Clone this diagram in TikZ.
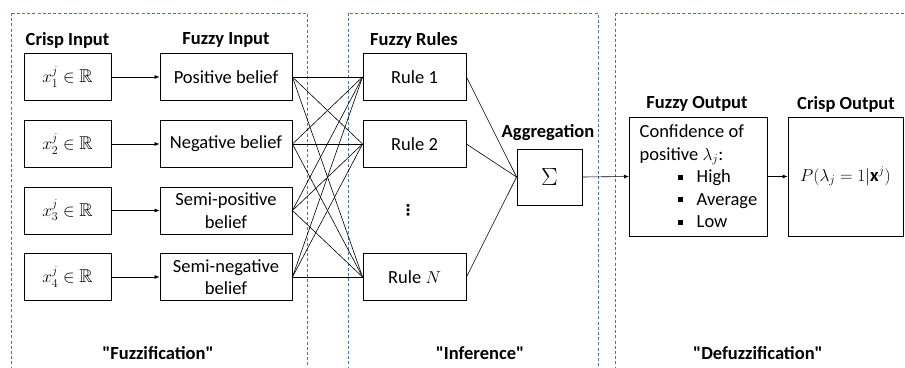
\documentclass[tikz,border=0pt]{standalone}
\usepackage{amsmath}
\usepackage{amssymb}
\usepackage{fontspec}
\setmainfont{Carlito}
\newfontfamily\symfont{DejaVu Sans}
\usetikzlibrary{arrows.meta}
\definecolor{stageblue}{RGB}{84,114,166}

\begin{document}
\fontsize{18.5}{22.5}\selectfont
\begin{tikzpicture}[x=1pt,y=-1pt,
    box/.style={draw,line width=0.9pt,inner sep=0pt,minimum height=47pt,align=center},
    head/.style={font=\bfseries},
    stage/.style={draw=stageblue,line width=0.7pt,dash pattern=on 3pt off 2.2pt},
    link/.style={line width=0.6pt},
    arr/.style={link,-{Latex[length=5pt,width=4pt]}}]
    \useasboundingbox (0,0) rectangle (905,367);
    \clip (0,0) rectangle (905,367);

    \draw[stage] (11,13) rectangle (307,400);
    \draw[stage] (348,13) rectangle (598,400);
    \draw[stage] (615,13) rectangle (960,400);

    \node[head] (hcrisp) at (67.5,40) {Crisp Input};
    \node[head] (hfuzzy) at (226,40) {Fuzzy Input};
    \node[head] (hrules) at (414,40) {Fuzzy Rules};
    \node[head] (hagg) at (548,133) {Aggregation};
    \node[head] (hfout) at (697,104) {Fuzzy Output};
    \node[head] (hcout) at (846,104) {Crisp Output};

    \foreach \i/\y/\t in {1/77/Positive belief,2/144/Negative belief,
        3/210.5/{Semi-positive\\belief},4/277/{Semi-negative\\belief}}{
        \node[box,minimum width=87pt] (c\i) at (67.5,\y) {$x_{\i}^{j}\in\mathbb{R}$};
        \node[box,minimum width=132pt] (f\i) at (226,\y) {\t};
        \draw[arr] (c\i.east) -- (f\i.west);
    }

    \node[box,minimum width=103pt] (r1) at (414.5,77) {Rule 1};
    \node[box,minimum width=103pt] (r2) at (414.5,144) {Rule 2};
    \node[font=\symfont\bfseries\fontsize{15}{15}\selectfont] (dots) at (408,210) {⋮};
    \node[box,minimum width=103pt] (rN) at (414.5,277) {Rule $N$};

    \foreach \i in {1,...,4}
        \foreach \r in {r1,r2,rN}
            \draw[link] (f\i.east) -- (\r.west);

    \node[box,minimum width=65pt,minimum height=56pt,font=\fontsize{23}{23}\selectfont] (sum) at (549.5,177) {$\Sigma$};
    \foreach \r in {r1,r2,rN}
        \draw[link] (\r.east) -- (sum.west);

    \node[box,minimum width=138pt,minimum height=119pt,align=left,anchor=west,inner xsep=8pt] (fout) at (629,176.5)
        {Confidence of\\positive $\lambda_j$:\\
         \hspace*{38pt}\rule[3pt]{5pt}{5pt}\hspace{14pt}High\\
         \hspace*{38pt}\rule[3pt]{5pt}{5pt}\hspace{14pt}Average\\
         \hspace*{38pt}\rule[3pt]{5pt}{5pt}\hspace{14pt}Low};
    \node[box,minimum width=115pt,minimum height=119pt] (cout) at (845.5,176.5) {$P(\lambda_j=1|\mathbf{x}^j)$};
    \draw[arr] (sum.east) -- (fout.west);
    \draw[arr] (fout.east) -- (cout.west);

    \node[head] (lfuzz) at (158,353) {\textquotedbl Fuzzification\textquotedbl};
    \node[head] (linf) at (480,353) {\textquotedbl Inference\textquotedbl};
    \node[head] (ldefuzz) at (758,353) {\textquotedbl Defuzzification\textquotedbl};
\end{tikzpicture}
\end{document}
